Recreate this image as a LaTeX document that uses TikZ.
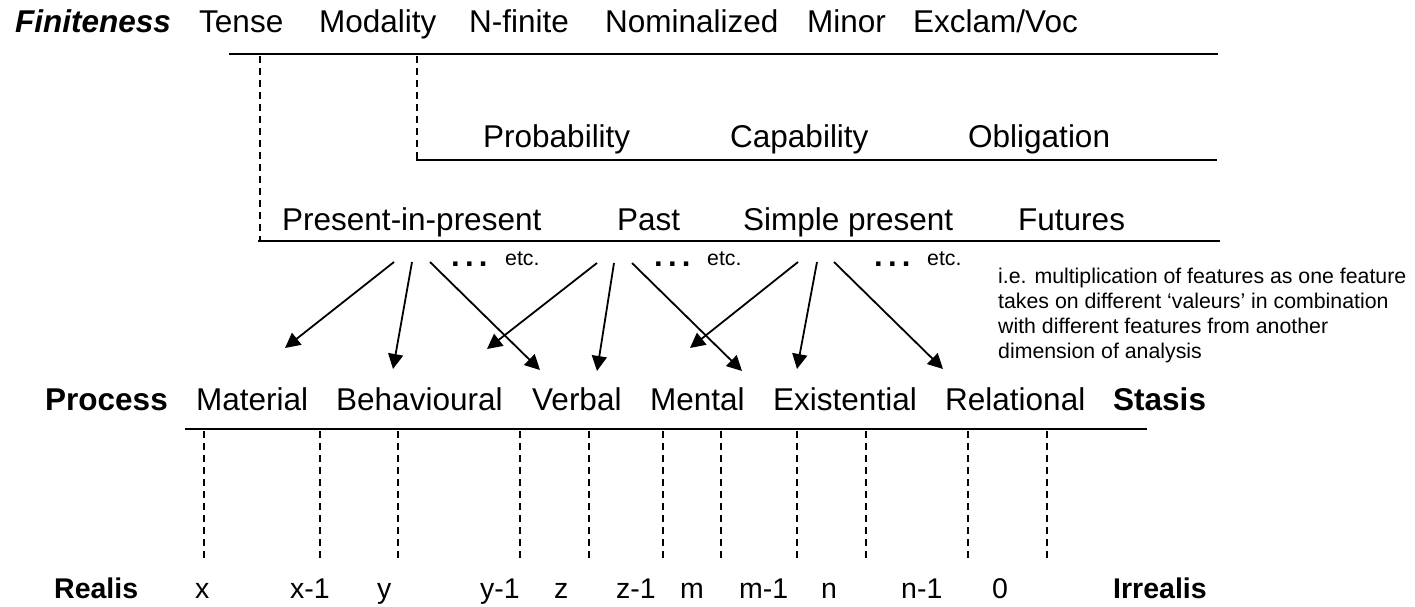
\documentclass[tikz,border=0pt]{standalone}
\usepackage{fontspec}
\setmainfont{Liberation Sans}
\usetikzlibrary{arrows.meta}

\begin{document}
\begin{tikzpicture}[x=1pt,y=-1pt,
>={Triangle[length=15pt,width=15pt]}]
     \tikzstyle{word}=[inner sep=0pt,anchor=base west,font=\fontsize{31.5}{36}\selectfont]
     \tikzstyle{head}=[word,font=\fontsize{31.5}{36}\selectfont\bfseries]
     \tikzstyle{value}=[word,font=\fontsize{28.5}{34}\selectfont]
     \tikzstyle{valhead}=[word,font=\fontsize{28.5}{34}\selectfont\bfseries]
     \tikzstyle{small}=[inner sep=0pt,anchor=base west,font=\fontsize{21.3}{25}\selectfont]
     \tikzstyle{dots}=[inner sep=0pt,anchor=base west,
                       font=\fontsize{31}{31}\selectfont\bfseries\addfontfeature{LetterSpace=17}]
     \tikzstyle{rule}=[draw,line width=2.5pt]
     \tikzstyle{guide}=[draw,line width=1.8pt,dash pattern=on 7pt off 5pt]
     \tikzstyle{edge}=[draw,line width=1.8pt,->]
     \useasboundingbox (0,0) rectangle (1415,606);

     % finiteness
     \node[word,font=\fontsize{31.5}{36}\selectfont\bfseries\itshape] (fin) at (15,32) {Finiteness};
     \node[word] (tense) at (199,32) {Tense};
     \node[word] (moda) at (319,32) {Modality};
     \node[word] (nfin) at (469,32) {N-finite};
     \node[word] (nomi) at (605,32) {Nominalized};
     \node[word] (minor) at (807,32) {Minor};
     \node[word] (excl) at (913,32) {Exclam/Voc};
     \draw[rule] (229,54) -- (1218,54);
     \draw[guide] (260,56) -- (260,241);
     \draw[guide] (417,56) -- (417,160);

     % modality
     \node[word] (prob) at (483,147) {Probability};
     \node[word] (capa) at (730,147) {Capability};
     \node[word] (obli) at (968,147) {Obligation};
     \draw[rule] (416,160) -- (1217,160);

     % tense
     \node[word] (pip) at (282,230) {Present-in-present};
     \node[word] (past) at (617,230) {Past};
     \node[word] (simp) at (743,230) {Simple present};
     \node[word] (fut) at (1018,230) {Futures};
     \draw[rule] (258,241) -- (1220,241);

     \node[dots] (dots1) at (451,266) {...};
     \node[small] (etc1) at (505,265) {etc.};
     \node[dots] (dots2) at (654,266) {...};
     \node[small] (etc2) at (707,265) {etc.};
     \node[dots] (dots3) at (874,266) {...};
     \node[small] (etc3) at (927,265) {etc.};
     \node[small,anchor=north west,align=left] (note) at (998,267.5)
          {i.e. multiplication of features as one feature\\
           takes on different ‘valeurs’ in combination\\
           with different features from another\\
           dimension of analysis};

     % process
     \node[head] (proc) at (45,410) {Process};
     \node[word] (mat) at (196,410) {Material};
     \node[word] (beh) at (336,410) {Behavioural};
     \node[word] (verb) at (532,410) {Verbal};
     \node[word] (ment) at (650,410) {Mental};
     \node[word] (exi) at (773,410) {Existential};
     \node[word] (rel) at (945,410) {Relational};
     \node[head] (stas) at (1113,410) {Stasis};
     \draw[rule] (185,429) -- (1147,429);

     \coordinate (pipL) at (394,262);
     \coordinate (pipM) at (412,262);
     \coordinate (pipR) at (430,262);
     \coordinate (pastL) at (597,263);
     \coordinate (pastM) at (614,263);
     \coordinate (pastR) at (632,263);
     \coordinate (simpL) at (798,262);
     \coordinate (simpM) at (817,262);
     \coordinate (simpR) at (834,262);
     \coordinate (matT) at (285,348);
     \coordinate (behT1) at (393,369);
     \coordinate (behT2) at (487,349);
     \coordinate (verbT1) at (540,370);
     \coordinate (verbT2) at (597,371);
     \coordinate (mentT1) at (742,371);
     \coordinate (mentT2) at (690,348);
     \coordinate (exiT) at (797,369);
     \coordinate (relT) at (943,369);

     \draw[edge] (pipL) -- (matT);
     \draw[edge] (pipM) -- (behT1);
     \draw[edge] (pipR) -- (verbT1);
     \draw[edge] (pastL) -- (behT2);
     \draw[edge] (pastM) -- (verbT2);
     \draw[edge] (pastR) -- (mentT1);
     \draw[edge] (simpL) -- (mentT2);
     \draw[edge] (simpM) -- (exiT);
     \draw[edge] (simpR) -- (relT);

     % realis scale
     \draw[guide] (204,431) -- (204,560);
     \draw[guide] (320,431) -- (320,560);
     \draw[guide] (398,431) -- (398,560);
     \draw[guide] (520,431) -- (520,560);
     \draw[guide] (589,431) -- (589,560);
     \draw[guide] (663,431) -- (663,560);
     \draw[guide] (721,431) -- (721,560);
     \draw[guide] (797,431) -- (797,560);
     \draw[guide] (866,431) -- (866,560);
     \draw[guide] (968,431) -- (968,560);
     \draw[guide] (1047,431) -- (1047,560);

     \node[valhead] (real) at (54,598) {Realis};
     \node[value] (vx) at (195,598) {x};
     \node[value] (vx1) at (290,598) {x-1};
     \node[value] (vy) at (377,598) {y};
     \node[value] (vy1) at (480,598) {y-1};
     \node[value] (vz) at (554,598) {z};
     \node[value] (vz1) at (616,598) {z-1};
     \node[value] (vm) at (680,598) {m};
     \node[value] (vm1) at (739,598) {m-1};
     \node[value] (vn) at (821,598) {n};
     \node[value] (vn1) at (901,598) {n-1};
     \node[value] (vzero) at (992,598) {0};
     \node[valhead] (irr) at (1113,598) {Irrealis};
\end{tikzpicture}
\end{document}
